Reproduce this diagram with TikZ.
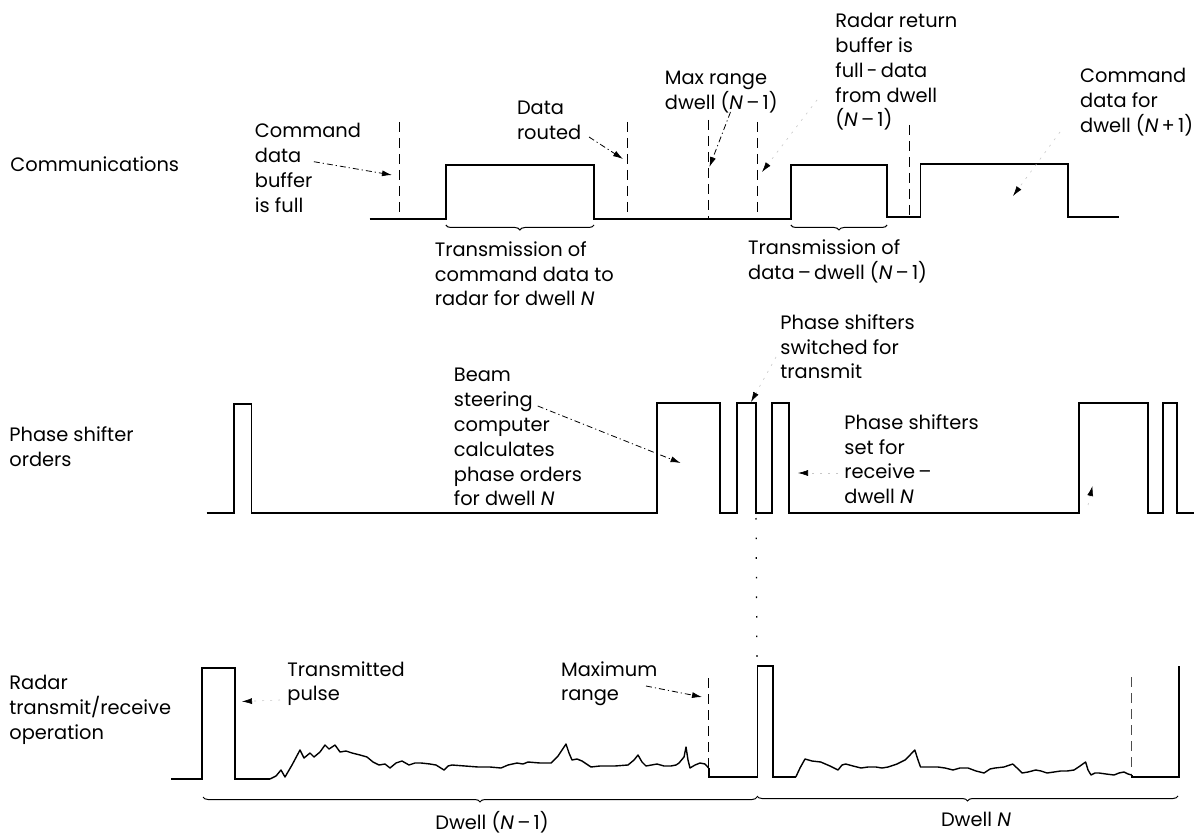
\documentclass[tikz,border=0pt]{standalone}
\usepackage{fontspec}
\setmainfont{Poppins}
\usetikzlibrary{arrows.meta,decorations.pathreplacing}
\tikzset{
  sig/.style={line width=0.9pt, line join=miter},
  noise/.style={line width=0.7pt, line join=round},
  dsh/.style={line width=0.5pt, dash pattern=on 5pt off 3pt},
  dotv/.style={line width=0.6pt, dash pattern=on 0.8pt off 9pt},
  lead/.style={line width=0.4pt, dash pattern=on 3pt off 1.5pt on 0.6pt off 1.5pt, -{Latex[length=5pt,width=3pt]}},
  faint/.style={line width=0.3pt, draw=black!22, dash pattern=on 1pt off 3pt, -{Latex[length=5pt,width=3pt,black]}},
  lbl/.style={font=\fontsize{9.7}{12.4}\selectfont, align=left, anchor=north west, inner sep=0pt},
  dwl/.style={font=\fontsize{9.7}{12.4}\selectfont, anchor=base, inner sep=0pt},
  brc/.style={decorate, decoration={brace,mirror,amplitude=2.5pt}, line width=0.5pt}
}
\begin{document}
\begin{tikzpicture}[x=0.5pt,y=-0.5pt]
\useasboundingbox (0,0) rectangle (1202,833);
\fill[white] (0,0) rectangle (1202,833);

% ---- row labels
\node[lbl] (comm) at (10,156) {Communications};
\node[lbl] (phase) at (9,426) {Phase shifter\\orders};
\node[lbl] (radar) at (9,675) {Radar\\transmit/receive\\operation};

% ---- Communications waveform
\draw[sig] (369.7,219) -- (445.8,219) -- (445.8,165) -- (594,165) -- (594,219)
  -- (790.8,219) -- (790.8,165) -- (887.1,165) -- (887.1,217) -- (920.5,217)
  -- (920.5,164) -- (1067.6,164) -- (1067.6,217) -- (1119,217);
\draw[dsh] (399,122) -- (399,219);
\draw[dsh] (627,122) -- (627,219);
\draw[dsh] (708.6,120) -- (708.6,219);
\draw[dsh] (757.4,122) -- (757.4,219);
\draw[dsh] (909,125) -- (909,217);
\draw[brc] (445.8,225) -- (594,225);
\draw[brc] (790.8,225) -- (887.1,225);

\node[lbl] (cbuf) at (254.5,123) {Command\\data\\buffer\\is full};
\node[lbl] (routed) at (516.6,101) {Data\\routed};
\node[lbl] (trcmd) at (434.4,241) {Transmission of\\command data to\\radar for dwell \textit{N}};
\node[lbl] (maxr) at (664.5,71) {Max range\\dwell (\textit{N}\,–\,1)};
\node[lbl] (rret) at (835,13) {Radar return\\buffer is\\full\,-\,data\\from dwell\\(\textit{N}\,–\,1)};
\node[lbl] (trdat) at (747.8,239) {Transmission of\\data\,–\,dwell (\textit{N}\,–\,1)};
\node[lbl] (cnext) at (1079.8,68) {Command\\data for\\dwell (\textit{N}\,+\,1)};

\coordinate (cbufS) at (313.8,161.7);
\coordinate (cbufT) at (392,175);
\coordinate (routS) at (589,137);
\coordinate (routT) at (623,159);
\coordinate (maxS) at (730.5,112);
\coordinate (maxT) at (709.4,167);
\coordinate (rretS) at (817,100);
\coordinate (rretT) at (762,172);
\coordinate (cnS) at (1060,132);
\coordinate (cnT) at (1013,196);
\draw[lead] (cbufS) -- (cbufT);
\draw[lead] (routS) -- (routT);
\draw[lead] (maxS) -- (maxT);
\draw[faint] (rretS) -- (rretT);
\draw[faint] (cnS) -- (cnT);

% ---- Phase shifter waveform
\draw[sig] (206.7,513) -- (234,513) -- (234,404) -- (251.4,404) -- (251.4,513)
  -- (656.8,513) -- (656.8,403) -- (719.8,403) -- (719.8,513)
  -- (737.3,513) -- (737.3,403) -- (756,403) -- (756,513)
  -- (772.3,513) -- (772.3,403) -- (789.3,403) -- (789.3,513)
  -- (1079.3,513) -- (1079.3,403) -- (1148,403) -- (1148,513)
  -- (1163,513) -- (1163,403) -- (1177,403) -- (1177,513) -- (1194,513);
\draw[dotv] (756,518) -- (757,664);

\node[lbl] (beam) at (453.5,368) {Beam\\steering\\computer\\calculates\\phase orders\\for dwell \textit{N}};
\node[lbl] (pstx) at (780,314) {Phase shifters\\switched for\\transmit};
\node[lbl] (psrx) at (844,414) {Phase shifters\\set for\\receive\,–\\dwell \textit{N}};

\coordinate (beamS) at (537.7,406);
\coordinate (beamT) at (680.6,463);
\coordinate (pstxS) at (776,357);
\coordinate (pstxT) at (751,402);
\coordinate (psrxS) at (838,473);
\coordinate (psrxT) at (798,473);
\coordinate (psrxS2) at (1088,505);
\coordinate (psrxT2) at (1092.5,486);
\draw[lead] (beamS) -- (beamT);
\draw[faint] (pstxS) -- (pstxT);
\draw[faint] (psrxS) -- (psrxT);
\draw[faint] (psrxS2) -- (psrxT2);

% ---- Radar waveform
\draw[sig] (171,779) -- (202,779) -- (202,668) -- (234.6,668) -- (234.6,779) -- (270,779);
\draw[noise] (270,779) -- (276,776) -- (281,770) -- (285,777) -- (292,765) -- (300,750)
  -- (304,758) -- (310,753) -- (314,757) -- (320,752) -- (325,745) -- (329,749)
  -- (335,745) -- (340,752) -- (346,751) -- (352,753) -- (360,755) -- (367,757)
  -- (373,762) -- (379,765) -- (385,764) -- (390,768) -- (396,763) -- (402,761)
  -- (409,765) -- (415,763) -- (421,763) -- (430,764) -- (436,765) -- (444,770)
  -- (448,766) -- (452,765) -- (465,766) -- (478,767) -- (490,767) -- (501,768)
  -- (508,765) -- (517,763) -- (523,764) -- (528,762) -- (540,763) -- (551,763)
  -- (558,756) -- (566,744) -- (569,753) -- (572,760) -- (577,759) -- (582,761)
  -- (591,767) -- (600,766) -- (615,766) -- (628,765) -- (634,760) -- (638,755)
  -- (642,762) -- (646,766) -- (657,764) -- (664,766) -- (671,766) -- (676,765)
  -- (679,763) -- (684,757) -- (686,747) -- (688,760) -- (690,768) -- (695,765)
  -- (700,763) -- (705,764) -- (708.6,768);
\draw[sig] (708.6,768) -- (708.6,777) -- (757.4,777) -- (757.4,666) -- (772.7,666)
  -- (772.7,777) -- (795.8,777);
\draw[noise] (795.8,777) -- (800,768) -- (805,759) -- (812,761) -- (820.7,762)
  -- (830,766) -- (838,770) -- (842,765) -- (845.7,764) -- (853,766) -- (861,768)
  -- (868,767) -- (876,767) -- (882,768) -- (888,767) -- (897,764) -- (905,760)
  -- (910,755) -- (914.8,750) -- (918,760) -- (920.5,767) -- (928,767) -- (937.8,767)
  -- (945,768) -- (953,770) -- (960,768) -- (968,768) -- (976,771) -- (984,773)
  -- (990,769) -- (995,768) -- (1004,767) -- (1012.7,764) -- (1017,768) -- (1022,773)
  -- (1028,772) -- (1035.7,770) -- (1041,771) -- (1047,773) -- (1054,772)
  -- (1060.7,771) -- (1067,771) -- (1074,770) -- (1080,766) -- (1085.6,762)
  -- (1088,770) -- (1091,775) -- (1095,773) -- (1099,773) -- (1106,774) -- (1114,775)
  -- (1119,773) -- (1124,772) -- (1128,774) -- (1131.7,775);
\draw[sig] (1131.7,775) -- (1131.7,777) -- (1179,777) -- (1179,666);
\draw[dsh] (708.6,678) -- (708.6,777);
\draw[dsh, draw=black!70] (1131.7,677) -- (1131.7,773);

\node[lbl] (txp) at (287,661) {Transmitted\\pulse};
\node[lbl] (maxrg) at (560.7,661) {Maximum\\range};
\coordinate (txpS) at (280,700);
\coordinate (txpT) at (242,701.5);
\coordinate (maxrgS) at (646,686);
\coordinate (maxrgT) at (702,697);
\draw[faint] (txpS) -- (txpT);
\draw[lead] (maxrgS) -- (maxrgT);

% ---- dwell braces
\draw[brc] (203,797) -- (757,797);
\draw[brc] (757,796) -- (1178,796);
\node[dwl] (dw1) at (492,829) {Dwell (\textit{N}\,–\,1)};
\node[dwl] (dw2) at (976,826) {Dwell \textit{N}};
\end{tikzpicture}
\end{document}
